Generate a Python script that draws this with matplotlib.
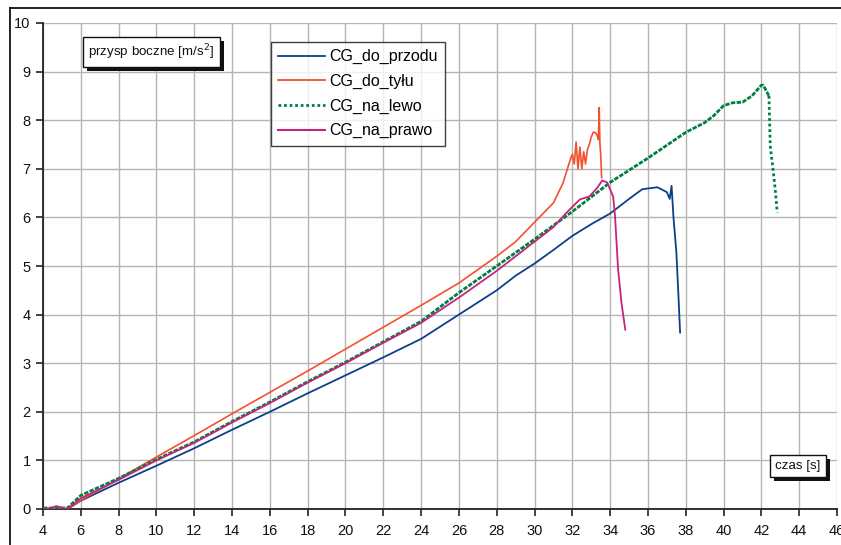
import matplotlib
matplotlib.use("Agg")
import matplotlib.pyplot as plt
from matplotlib.lines import Line2D
from matplotlib.patches import Rectangle

plt.rcParams['font.family'] = ['Liberation Sans', 'DejaVu Sans']

# CG_do_przodu
t_przod = [4.0, 5.3, 6.0, 8.0, 10.0, 12.0, 14.0, 16.0, 18.0, 20.0, 22.0, 24.0, 25.0, 26.0, 28.0, 29.0,
           30.0, 31.0, 32.0, 33.0, 34.0, 35.0, 35.7, 36.5, 37.0, 37.15, 37.25, 37.35, 37.5, 37.6, 37.7]
a_przod = [0.0, 0.0, 0.17, 0.54, 0.89, 1.25, 1.63, 2.0, 2.38, 2.75, 3.12, 3.5, 3.75, 4.0, 4.5, 4.8,
           5.05, 5.33, 5.62, 5.86, 6.08, 6.38, 6.58, 6.62, 6.52, 6.38, 6.65, 6.0, 5.3, 4.5, 3.63]

# CG_do_tyłu
t_tyl = [4.0, 5.3, 6.0, 8.0, 10.0, 12.0, 14.0, 16.0, 18.0, 20.0, 22.0, 24.0, 26.0, 28.0, 29.0, 30.0,
         31.0, 31.5, 31.9, 32.0, 32.1, 32.2, 32.3, 32.4, 32.5, 32.6, 32.7, 32.8, 32.9, 33.0, 33.1,
         33.2, 33.3, 33.38, 33.42, 33.46, 33.5, 33.55]
a_tyl = [0.0, 0.0, 0.18, 0.62, 1.07, 1.51, 1.96, 2.4, 2.84, 3.29, 3.74, 4.19, 4.65, 5.2, 5.5, 5.9,
         6.3, 6.7, 7.2, 7.3, 7.1, 7.55, 7.0, 7.45, 7.0, 7.35, 7.1, 7.4, 7.5, 7.65, 7.75,
         7.75, 7.7, 7.6, 8.26, 7.5, 7.3, 6.82]

# CG_na_lewo
t_lewo = [4.0, 5.0, 5.3, 6.0, 8.0, 10.0, 12.0, 14.0, 16.0, 18.0, 20.0, 22.0, 24.0, 26.0, 28.0, 30.0,
          32.0, 34.0, 36.0, 38.0, 39.0, 39.5, 40.0, 40.5, 41.0, 41.5, 42.0, 42.1, 42.4, 42.47, 42.6,
          42.73, 42.84]
a_lewo = [0.02, 0.02, 0.02, 0.28, 0.63, 1.02, 1.38, 1.8, 2.2, 2.62, 3.02, 3.44, 3.86, 4.45, 5.0, 5.55,
          6.12, 6.72, 7.22, 7.75, 7.95, 8.1, 8.3, 8.36, 8.37, 8.5, 8.72, 8.72, 8.5, 7.46, 7.05,
          6.58, 6.1]

# CG_na_prawo
t_prawo = [4.0, 4.4, 4.7, 5.0, 5.3, 6.0, 8.0, 10.0, 12.0, 14.0, 16.0, 18.0, 20.0, 22.0, 24.0, 26.0,
           28.0, 30.0, 31.0, 31.7, 32.4, 32.9, 33.3, 33.58, 33.84, 34.16, 34.26, 34.42, 34.6, 34.8]
a_prawo = [0.0, 0.02, 0.06, 0.03, 0.0, 0.22, 0.6, 1.0, 1.36, 1.78, 2.18, 2.6, 3.0, 3.42, 3.83, 4.35,
           4.9, 5.5, 5.8, 6.1, 6.37, 6.43, 6.6, 6.76, 6.72, 6.43, 6.02, 4.93, 4.24, 3.69]

labels = ['CG_do_przodu', 'CG_do_tyłu', 'CG_na_lewo', 'CG_na_prawo']
colors = ['#0e3f8a', '#f5502e', '#008040', '#c4237e']

x_ticks = list(range(4, 47, 2))
y_ticks = list(range(0, 11, 1))

fig = plt.figure(figsize=(8.41, 5.45), dpi=100)
ax = fig.add_axes([43/841, 1-509/545, (837-43)/841, (509-23)/545])

dotted = (0, (1.0, 1.0))
ax.plot(t_przod, a_przod, color=colors[0], lw=1.3, zorder=3)
ax.plot(t_tyl, a_tyl, color=colors[1], lw=1.2, zorder=3)
# green: dense rising part, then clearly dotted falling part (index 28 = peak end)
ax.plot(t_lewo[:29], a_lewo[:29], color=colors[2], lw=2.0, ls=(0, (1.6, 0.5)), zorder=3)
ax.plot(t_lewo[28:], a_lewo[28:], color=colors[2], lw=2.0, ls=dotted, zorder=3)
ax.plot(t_prawo, a_prawo, color=colors[3], lw=1.3, zorder=3)

handles = [Line2D([], [], color=colors[0], lw=1.3),
           Line2D([], [], color=colors[1], lw=1.3),
           Line2D([], [], color=colors[2], lw=2.0, ls=dotted),
           Line2D([], [], color=colors[3], lw=1.5)]

ax.set_xlim(4, 46)
ax.set_ylim(0, 10)
ax.set_xticks(x_ticks)
ax.set_yticks(y_ticks)
ax.grid(True, color='#b4b4b4', lw=1.0, zorder=0)
ax.set_axisbelow(True)
for s in ['top', 'right']:
    ax.spines[s].set_visible(False)
for s in ['left', 'bottom']:
    ax.spines[s].set_color('#222222')
    ax.spines[s].set_linewidth(1.3)
ax.tick_params(axis='both', direction='out', length=5, width=1.2, color='#222222',
               labelsize=10.5, labelcolor='#111111')
ax.tick_params(axis='x', pad=6)
ax.tick_params(axis='y', pad=4)

leg = ax.legend(handles, labels, loc='upper left', bbox_to_anchor=((271-43)/794, (509-42)/486),
                frameon=True, fancybox=False, fontsize=11.5, handlelength=2.9,
                borderpad=0.45, labelspacing=0.6, handletextpad=0.3, borderaxespad=0)
leg.get_frame().set_edgecolor('#111111')
leg.get_frame().set_linewidth(1.0)

box = dict(boxstyle='square,pad=0.4', fc='white', ec='#111111', lw=1.0)
texts = []
for txt, (px, py) in [('przysp boczne [m/s$^2$]', (88, 52)), ('czas [s]', (775, 466))]:
    xa = 4 + (px - 43) / 18.9
    ya = (509 - py) / 48.6
    t = ax.text(xa, ya, txt, fontsize=9.6, va='center', ha='left', color='#111111', bbox=box, zorder=6)
    texts.append(t)

fig.canvas.draw()
for t in texts:
    bb = t.get_bbox_patch().get_window_extent()
    ax.add_artist(Rectangle((bb.x0 + 4, bb.y0 - 4), bb.width, bb.height, transform=None,
                            fc='#111111', ec='none', zorder=5, clip_on=False))

# outer chart frame
fig.add_artist(Line2D([10/841, 10/841], [0, 1-8/545], color='#111111', lw=1.3))
fig.add_artist(Line2D([10/841, 1], [1-8/545, 1-8/545], color='#111111', lw=1.3))

fig.savefig('out.png', dpi=100)
